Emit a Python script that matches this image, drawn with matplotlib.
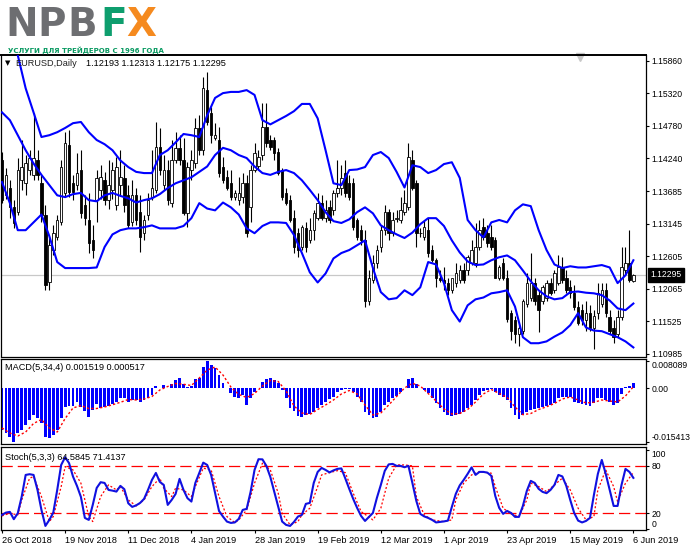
import matplotlib
matplotlib.use("Agg")
import matplotlib.pyplot as plt
from matplotlib.transforms import blended_transform_factory
import numpy as np

# ---------------- data ----------------
opens = [1.1420,1.1362,1.1375,1.1342,1.1334,1.1387,1.1382,1.1404,1.1396,1.1420,
         1.1382,1.1329,1.1217,1.1271,1.1292,1.1317,1.1366,1.1446,1.1382,1.1379,
         1.1404,1.1346,1.1321,1.1287,1.1354,1.1371,1.1387,1.1354,1.1371,1.1346,
         1.1379,1.1391,1.1362,1.1317,1.1362,1.1334,1.1299,1.1329,1.1359,1.1371,
         1.1442,1.1379,1.1404,1.1349,1.1420,1.1441,1.1420,1.1332,1.1404,1.1415,
         1.1474,1.1437,1.1537,1.1499,1.1457,1.1454,1.1409,1.1392,1.1382,1.1359,
         1.1354,1.1359,1.1382,1.1342,1.1404,1.1410,1.1429,1.1475,1.1454,1.1454,
         1.1434,1.1404,1.1366,1.1354,1.1325,1.1299,1.1276,1.1307,1.1287,1.1304,
         1.1325,1.1349,1.1325,1.1342,1.1337,1.1366,1.1374,1.1399,1.1382,1.1382,
         1.1321,1.1304,1.1287,1.1187,1.1221,1.1249,1.1276,1.1304,1.1334,1.1300,
         1.1322,1.1321,1.1334,1.1342,1.1420,1.1382,1.1299,1.1292,1.1304,1.1271,
         1.1254,1.1225,1.1221,1.1216,1.1204,1.1216,1.1221,1.1237,1.1237,1.1249,
         1.1249,1.1276,1.1309,1.1299,1.1292,1.1287,1.1225,1.1249,1.1225,1.1166,
         1.1154,1.1132,1.1137,1.1182,1.1192,1.1216,1.1196,1.1187,1.1192,1.1216,
         1.1204,1.1216,1.1242,1.1225,1.1209,1.1199,1.1176,1.1171,1.1154,1.1166,
         1.1142,1.1166,1.1182,1.1204,1.1159,1.1142,1.1132,1.1159,1.1237,1.1249,
         1.12193]
highs = [1.1434,1.1407,1.1387,1.1354,1.1424,1.1454,1.1429,1.1437,1.1499,1.1437,
         1.1396,1.1346,1.1292,1.1312,1.1329,1.1420,1.1467,1.1470,1.1396,1.1432,
         1.1437,1.1362,1.1366,1.1312,1.1404,1.1412,1.1401,1.1420,1.1417,1.1425,
         1.1437,1.1412,1.1379,1.1387,1.1374,1.1362,1.1329,1.1366,1.1437,1.1484,
         1.1474,1.1429,1.1420,1.1454,1.1467,1.1462,1.1457,1.1417,1.1437,1.1490,
         1.1495,1.1559,1.1567,1.1509,1.1482,1.1475,1.1425,1.1404,1.1404,1.1371,
         1.1392,1.1399,1.1396,1.1412,1.1449,1.1437,1.1515,1.1515,1.1462,1.1459,
         1.1441,1.1407,1.1374,1.1362,1.1337,1.1307,1.1312,1.1317,1.1325,1.1337,
         1.1366,1.1362,1.1354,1.1354,1.1371,1.1420,1.1412,1.1420,1.1396,1.1391,
         1.1325,1.1312,1.1304,1.1237,1.1262,1.1279,1.1312,1.1346,1.1340,1.1334,
         1.1337,1.1359,1.1371,1.1449,1.1437,1.1387,1.1307,1.1321,1.1325,1.1279,
         1.1257,1.1237,1.1242,1.1224,1.1221,1.1249,1.1246,1.1249,1.1262,1.1287,
         1.1316,1.1321,1.1324,1.1312,1.1312,1.1292,1.1246,1.1257,1.1237,1.1171,
         1.1162,1.1146,1.1190,1.1232,1.1266,1.1224,1.1204,1.1212,1.1221,1.1224,
         1.1237,1.1262,1.1259,1.1237,1.1221,1.1212,1.1187,1.1182,1.1187,1.1179,
         1.1171,1.1216,1.1216,1.1216,1.1171,1.1154,1.1171,1.1276,1.1276,1.1304,
         1.12313]
lows = [1.1349,1.1356,1.1325,1.1307,1.1329,1.1371,1.1362,1.1396,1.1387,1.1387,
        1.1317,1.1204,1.1204,1.1262,1.1287,1.1312,1.1359,1.1359,1.1354,1.1371,
        1.1324,1.1312,1.1266,1.1257,1.1317,1.1356,1.1346,1.1340,1.1356,1.1337,
        1.1362,1.1334,1.1307,1.1311,1.1312,1.1267,1.1287,1.1321,1.1354,1.1366,
        1.1396,1.1371,1.1346,1.1342,1.1415,1.1412,1.1329,1.1309,1.1387,1.1407,
        1.1429,1.1429,1.1479,1.1449,1.1454,1.1392,1.1382,1.1371,1.1354,1.1354,
        1.1346,1.1349,1.1292,1.1317,1.1401,1.1404,1.1420,1.1442,1.1437,1.1420,
        1.1396,1.1354,1.1346,1.1317,1.1266,1.1259,1.1271,1.1267,1.1282,1.1287,
        1.1321,1.1321,1.1317,1.1316,1.1329,1.1359,1.1362,1.1359,1.1354,1.1304,
        1.1287,1.1279,1.1176,1.1179,1.1216,1.1241,1.1267,1.1296,1.1287,1.1294,
        1.1317,1.1316,1.1329,1.1337,1.1371,1.1276,1.1292,1.1287,1.1259,1.1251,
        1.1209,1.1217,1.1204,1.1196,1.1199,1.1209,1.1216,1.1216,1.1229,1.1246,
        1.1242,1.1271,1.1287,1.1276,1.1271,1.1224,1.1221,1.1221,1.1151,1.1121,
        1.1116,1.1112,1.1132,1.1176,1.1187,1.1179,1.1134,1.1182,1.1187,1.1196,
        1.1199,1.1212,1.1216,1.1199,1.1192,1.1171,1.1146,1.1146,1.1137,1.1137,
        1.1107,1.1157,1.1176,1.1159,1.1132,1.1116,1.1126,1.1154,1.1229,1.1217,
        1.12175]
closes = [1.1354,1.1396,1.1342,1.1316,1.1404,1.1409,1.1415,1.1424,1.1424,1.1396,
          1.1329,1.1212,1.1279,1.1300,1.1321,1.1409,1.1449,1.1367,1.1367,1.1399,
          1.1332,1.1325,1.1282,1.1271,1.1391,1.1392,1.1354,1.1379,1.1404,1.1409,
          1.1392,1.1346,1.1312,1.1362,1.1321,1.1292,1.1321,1.1354,1.1375,1.1442,
          1.1404,1.1404,1.1354,1.1420,1.1441,1.1420,1.1332,1.1409,1.1420,1.1474,
          1.1437,1.1540,1.1484,1.1462,1.1462,1.1399,1.1387,1.1375,1.1359,1.1366,
          1.1366,1.1382,1.1299,1.1404,1.1432,1.1425,1.1475,1.1449,1.1442,1.1432,
          1.1399,1.1359,1.1349,1.1321,1.1276,1.1271,1.1309,1.1276,1.1304,1.1332,
          1.1349,1.1325,1.1337,1.1321,1.1366,1.1375,1.1391,1.1366,1.1359,1.1309,
          1.1292,1.1287,1.1187,1.1225,1.1249,1.1271,1.1304,1.1334,1.1300,1.1321,
          1.1324,1.1337,1.1349,1.1425,1.1375,1.1299,1.1300,1.1309,1.1266,1.1254,
          1.1225,1.1221,1.1216,1.1204,1.1225,1.1232,1.1237,1.1221,1.1259,1.1271,
          1.1276,1.1304,1.1292,1.1282,1.1276,1.1225,1.1242,1.1225,1.1157,1.1137,
          1.1132,1.1142,1.1187,1.1216,1.1216,1.1187,1.1171,1.1209,1.1216,1.1200,
          1.1232,1.1242,1.1221,1.1204,1.1199,1.1176,1.1149,1.1154,1.1166,1.1142,
          1.1162,1.1199,1.1204,1.1166,1.1137,1.1126,1.1159,1.1242,1.1249,1.1221,
          1.12295]

# Bollinger bands (20) sampled every 2nd bar
band_bars = list(range(0, 161, 2))
bb_upper = [1.1645,1.1620,1.1595,1.1540,1.1500,1.1459,1.1462,1.1467,1.1474,1.1482,
            1.1484,1.1467,1.1454,1.1447,1.1437,1.1420,1.1409,1.1401,1.1399,1.1399,
            1.1429,1.1437,1.1450,1.1464,1.1462,1.1459,1.1495,1.1524,1.1532,1.1534,
            1.1534,1.1537,1.1529,1.1487,1.1480,1.1487,1.1494,1.1502,1.1514,1.1514,
            1.1490,1.1437,1.1382,1.1379,1.1404,1.1405,1.1409,1.1429,1.1434,1.1424,
            1.1401,1.1375,1.1412,1.1409,1.1399,1.1404,1.1414,1.1417,1.1391,1.1321,
            1.1304,1.1292,1.1317,1.1321,1.1317,1.1337,1.1347,1.1344,1.1304,1.1271,
            1.1247,1.1241,1.1244,1.1242,1.1242,1.1244,1.1246,1.1242,1.1216,1.1229,
            1.1254]
bb_middle = [1.1500,1.1487,1.1462,1.1437,1.1415,1.1396,1.1379,1.1362,1.1359,1.1364,
             1.1366,1.1354,1.1352,1.1362,1.1366,1.1361,1.1357,1.1350,1.1354,1.1357,
             1.1364,1.1374,1.1382,1.1387,1.1392,1.1401,1.1410,1.1429,1.1441,1.1437,
             1.1429,1.1424,1.1410,1.1399,1.1396,1.1401,1.1404,1.1399,1.1387,1.1371,
             1.1354,1.1334,1.1319,1.1316,1.1322,1.1334,1.1342,1.1332,1.1312,1.1304,
             1.1297,1.1291,1.1300,1.1314,1.1324,1.1324,1.1311,1.1287,1.1267,1.1252,
             1.1246,1.1247,1.1254,1.1259,1.1262,1.1254,1.1237,1.1219,1.1204,1.1194,
             1.1189,1.1191,1.1201,1.1202,1.1200,1.1199,1.1196,1.1187,1.1174,1.1171,
             1.1182]
bb_lower = [1.1384,1.1349,1.1304,1.1304,1.1317,1.1330,1.1294,1.1251,1.1241,1.1241,
            1.1241,1.1241,1.1242,1.1276,1.1297,1.1304,1.1307,1.1307,1.1309,1.1312,
            1.1307,1.1307,1.1307,1.1311,1.1324,1.1349,1.1340,1.1337,1.1350,1.1342,
            1.1330,1.1307,1.1299,1.1311,1.1317,1.1317,1.1316,1.1296,1.1266,1.1234,
            1.1217,1.1232,1.1257,1.1266,1.1271,1.1279,1.1287,1.1241,1.1201,1.1189,
            1.1191,1.1204,1.1196,1.1209,1.1251,1.1247,1.1216,1.1171,1.1152,1.1179,
            1.1189,1.1192,1.1199,1.1201,1.1204,1.1177,1.1126,1.1116,1.1116,1.1119,
            1.1127,1.1134,1.1146,1.1166,1.1142,1.1137,1.1136,1.1131,1.1126,1.1119,
            1.1109]

# MACD(5,34,4) histogram (main) per bar
macd_main = [-0.01203,-0.01299,-0.01397,-0.015413,-0.0129,-0.01203,-0.01058,-0.00913,-0.00768,-0.00855,
             -0.01,-0.01397,-0.01426,-0.01348,-0.01203,-0.00855,-0.00528,-0.00499,-0.00499,-0.004,
             -0.00528,-0.00652,-0.00817,-0.00623,-0.00458,-0.00574,-0.00528,-0.00499,-0.00458,-0.00383,
             -0.00267,-0.00267,-0.00383,-0.00333,-0.00333,-0.00383,-0.00333,-0.00284,-0.00188,0.00072,
             0.00006,0.00101,0.00014,0.00122,0.00246,0.00296,0.00122,0.00052,0.00081,0.00275,
             0.00313,0.00632,0.008089,0.00681,0.00586,0.00391,0.00151,0.00006,-0.00139,-0.00238,
             -0.00267,-0.00188,-0.00478,-0.00284,-0.0011,0.00006,0.00197,0.00275,0.00296,0.00238,
             0.00151,-0.00035,-0.00284,-0.00574,-0.00652,-0.00788,-0.00817,-0.00768,-0.00748,-0.0069,
             -0.00574,-0.00478,-0.00383,-0.00304,-0.00238,-0.0011,-0.00043,-0.00014,-0.00023,-0.00093,
             -0.00238,-0.00383,-0.00672,-0.00768,-0.00846,-0.00817,-0.00672,-0.00478,-0.00383,-0.00284,
             -0.00209,-0.00093,0.00006,0.00275,0.00296,0.00122,0.00006,-0.00043,-0.00139,-0.00284,
             -0.00429,-0.00574,-0.00672,-0.00768,-0.00788,-0.00768,-0.00748,-0.00672,-0.00574,-0.00478,
             -0.00333,-0.00188,-0.00072,-0.00043,-0.00023,-0.00093,-0.00188,-0.00238,-0.00333,-0.00574,
             -0.00768,-0.00884,-0.00768,-0.00672,-0.00623,-0.00594,-0.00574,-0.00528,-0.00499,-0.00478,
             -0.00429,-0.00284,-0.00238,-0.00238,-0.00238,-0.00383,-0.00429,-0.00458,-0.00478,-0.00499,
             -0.00429,-0.00284,-0.00284,-0.00333,-0.00383,-0.00478,-0.00429,-0.00168,0.00052,0.00081,
             0.001519]
signal_bars = list(range(0, 161, 2))
macd_signal = [-0.01145,-0.0129,-0.01377,-0.01261,-0.01014,-0.00899,-0.01145,-0.01261,-0.0087,-0.00565,
               -0.00493,-0.0058,-0.0058,-0.00536,-0.00472,-0.004,-0.00319,-0.00333,-0.00304,-0.00232,
               -0.00043,0.00058,0.00145,0.00122,0.00087,0.00304,0.00536,0.00623,0.00391,0.00043,
               -0.00174,-0.00261,-0.00145,0.00072,0.00232,0.00203,-0.00072,-0.00507,-0.0071,-0.00754,
               -0.00609,-0.00478,-0.00333,-0.00159,-0.00058,-0.00159,-0.00478,-0.00768,-0.0071,-0.00478,
               -0.00232,0.00014,0.00151,0.00072,-0.00145,-0.00362,-0.00594,-0.00739,-0.00725,-0.00609,
               -0.00391,-0.00159,-0.00029,-0.00145,-0.00261,-0.00536,-0.00759,-0.00725,-0.00609,-0.0053,
               -0.00435,-0.00304,-0.00246,-0.00333,-0.0042,-0.004,-0.00333,-0.00362,-0.00391,-0.00217,
               0.000517]

# Stochastic(5,3,3)
stoch_k = [17.9,20.8,21.7,12.5,20.0,41.0,68.3,69.2,68.3,49.4,
           24.2,4.0,11.6,20.8,49.4,80.9,90.6,83.1,66.2,54.5,
           40.6,14.1,11.6,30.5,51.9,59.1,58.2,49.4,48.5,47.3,
           54.5,50.3,32.6,28.0,29.9,33.0,38.1,49.4,62.0,70.8,
           59.5,55.7,30.5,36.8,44.4,63.3,49.4,39.0,34.7,58.2,
           70.8,83.8,80.9,68.3,45.3,22.9,15.8,9.5,7.8,8.4,
           12.9,24.2,25.5,46.9,74.6,88.1,87.9,79.7,65.8,46.9,
           28.0,9.5,5.3,4.0,9.1,15.8,17.9,31.8,33.0,58.2,
           72.1,77.1,74.6,71.5,74.0,75.9,76.5,63.9,50.7,38.1,
           26.7,16.6,10.3,15.4,20.4,39.3,55.7,73.4,81.6,82.2,
           79.7,79.7,78.0,79.7,58.2,35.5,19.2,16.0,14.1,11.6,
           8.4,9.1,9.7,10.7,28.0,44.4,55.1,62.0,69.6,77.8,
           68.3,72.1,72.1,71.2,67.1,41.9,26.7,19.2,22.9,20.4,
           15.4,15.4,29.2,48.2,60.8,58.2,50.7,46.9,45.3,49.4,
           55.7,68.3,66.4,54.5,36.8,20.4,10.7,8.4,10.3,14.1,
           43.1,69.6,87.2,69.6,49.4,29.2,29.2,55.7,75.9,72.1,
           64.5845]
stoch_d_bars = [0,2,4,5,7,8,10,12,13,15,16,18,20,22,23,25,27,29,30,32,34,36,38,40,41,43,44,46,48,49,
                51,53,55,57,59,60,62,64,66,68,70,71,73,75,76,78,80,81,83,85,87,89,91,94,96,98,100,102,104,105,
                107,109,112,114,115,117,119,121,124,125,127,129,131,133,134,136,138,140,142,144,146,148,150,151,153,155,156,158,160]
stoch_d = [16.6,20.0,17.9,36.8,64.2,66.2,41.0,9.5,15.8,53.6,78.8,74.6,57.9,15.8,9.5,41.0,55.7,49.4,53.6,36.8,
           29.2,36.8,53.6,64.2,51.6,41.0,51.6,49.4,41.0,53.6,76.8,74.6,41.0,15.8,8.2,11.6,24.2,57.9,83.1,74.6,
           45.3,20.0,5.3,9.5,17.9,26.3,53.6,68.3,71.2,73.7,71.2,45.3,22.1,11.6,26.3,64.2,80.9,80.9,79.7,41.0,
           17.9,11.6,9.5,11.6,36.8,57.9,68.3,72.5,70.5,53.6,26.3,19.2,15.8,36.8,57.9,53.6,47.3,55.7,64.2,49.4,
           26.3,11.6,15.8,49.4,74.6,53.6,34.7,57.9,71.4137]

date_ticks = [0, 16, 32, 48, 64, 80, 96, 112, 128, 144, 160]
date_labels = ["26 Oct 2018", "19 Nov 2018", "11 Dec 2018", "4 Jan 2019", "28 Jan 2019",
               "19 Feb 2019", "12 Mar 2019", "1 Apr 2019", "23 Apr 2019", "15 May 2019", "6 Jun 2019"]
price_ticks = [1.15860, 1.15320, 1.14780, 1.14240, 1.13685, 1.13145, 1.12605, 1.12065, 1.11525, 1.10985]
macd_ticks = [0.008089, 0.0, -0.015413]
macd_tick_labels = ["0.008089", "0.00", "-0.015413"]
stoch_ticks = [100, 80, 20, 0]
last_price = 1.12295

# ---------------- figure ----------------
plt.rcParams['font.family'] = ['Liberation Sans', 'DejaVu Sans']
FS = 6.6
YFS = 6.2
W, H = 691, 549
fig = plt.figure(figsize=(W / 100, H / 100), dpi=100)
fig.patch.set_facecolor('white')

def rect(top, bottom, left=1, right=646):
    return [left / W, (H - bottom) / H, (right - left) / W, (bottom - top) / H]

ax1 = fig.add_axes(rect(55, 356.5))
ax2 = fig.add_axes(rect(359, 444))
ax3 = fig.add_axes(rect(447, 529.5))

n = len(closes)
x = np.arange(n)
o = np.array(opens); h = np.array(highs); l = np.array(lows); c = np.array(closes)
XL = (-0.25, 163.2)

for ax in (ax1, ax2, ax3):
    ax.set_xlim(*XL)
    ax.yaxis.tick_right()
    ax.tick_params(axis='y', direction='out', length=2.2, width=0.8, labelsize=YFS, pad=1.5, colors='black')
    for s in ax.spines.values():
        s.set_color('black')
        s.set_linewidth(0.9)
    ax.set_facecolor('white')

# main chart
ax1.axhline(last_price, color='#C8C8C8', lw=0.9, zorder=0.5)
ax1.vlines(x, l, h, color='black', lw=0.8, zorder=1)
body_lo = np.minimum(o, c)
body_h = np.maximum(np.abs(c - o), 0.00004)
face = ['white' if cc >= oo else 'black' for oo, cc in zip(opens, closes)]
ax1.bar(x, body_h, bottom=body_lo, width=0.62, color=face, edgecolor='black', linewidth=0.6, zorder=2)
for band in (bb_upper, bb_middle, bb_lower):
    ax1.plot(band_bars, band, color='#0000FF', lw=1.5, zorder=3, solid_joinstyle='round')
ax1.set_ylim(1.10939, 1.15954)
ax1.set_yticks(price_ticks)
ax1.set_yticklabels([f"{v:.5f}" for v in price_ticks])
ax1.set_xticks([])
ax1.spines['top'].set_linewidth(1.4)
ax1.text(1.007, last_price, f"{last_price:.5f}", transform=blended_transform_factory(ax1.transAxes, ax1.transData),
         color='white', fontsize=YFS, va='center', ha='left',
         bbox=dict(facecolor='black', edgecolor='black', boxstyle='square,pad=0.3'), clip_on=False, zorder=5)
ax1.plot([0.898], [0.992], marker='v', color='#C8C8C8', ms=6, transform=ax1.transAxes, clip_on=False)

# MACD
ax2.bar(x, macd_main, width=0.72, color='#0000FF', linewidth=0, zorder=2)
ax2.plot(signal_bars, macd_signal, color='#FF0000', lw=1.0, ls=(0, (1.6, 1.6)), zorder=3)
ax2.set_ylim(-0.01609, 0.00855)
ax2.set_yticks(macd_ticks)
ax2.set_yticklabels(macd_tick_labels)
tl = ax2.get_yticklabels()
tl[0].set_va('top'); tl[2].set_va('bottom')
ax2.set_xticks([])

# Stochastic
ax3.axhline(80, color='#FF0000', lw=0.9, ls=(0, (9, 4)), zorder=1)
ax3.axhline(20, color='#FF0000', lw=0.9, ls=(0, (9, 4)), zorder=1)
ax3.plot(stoch_d_bars, stoch_d, color='#FF0000', lw=0.9, ls=(0, (1.6, 1.6)), zorder=2)
ax3.plot(x, stoch_k, color='#1010E0', lw=1.5, zorder=3, solid_joinstyle='round')
ax3.set_ylim(-0.5, 103.5)
ax3.set_yticks(stoch_ticks)
ax3.set_yticklabels([str(v) for v in stoch_ticks])
tl = ax3.get_yticklabels()
tl[0].set_va('top'); tl[3].set_va('bottom')
ax3.set_xticks(date_ticks)
ax3.set_xticklabels(date_labels, ha='left')
ax3.tick_params(axis='x', direction='out', length=2.5, width=0.8, labelsize=FS, pad=2.5)

# header texts
def fy(py):
    return 1 - py / H
fig.text(5 / W, fy(63), '\u25BC', fontsize=5, va='center', ha='left', color='black', family='DejaVu Sans')
fig.text(15 / W, fy(63), 'EURUSD,Daily', fontsize=FS, va='center', ha='left', color='#202020')
fig.text(86 / W, fy(63), '1.12193 1.12313 1.12175 1.12295', fontsize=FS, va='center', ha='left', color='black')
fig.text(5 / W, fy(368), 'MACD(5,34,4) 0.001519 0.000517', fontsize=FS, va='center', ha='left', color='black')
fig.text(5 / W, fy(457), 'Stoch(5,3,3) 64.5845 71.4137', fontsize=FS, va='center', ha='left', color='black')

# logo (letters placed individually to match the wide logo)
logo_letters = ['N', 'P', 'B', 'F', 'X']
logo_colors = ['#6D6E71', '#6D6E71', '#6D6E71', '#0E9E6E', '#F58A1F']
logo_px = [5, 37, 67, 100, 126]
for ch, col, px in zip(logo_letters, logo_colors, logo_px):
    fig.text(px / W, fy(36.5), ch, fontsize=28, fontweight='bold', color=col,
             va='baseline', ha='left', family='DejaVu Sans')
fig.text(8 / W, fy(52.3), 'УСЛУГИ ДЛЯ ТРЕЙДЕРОВ С 1996 ГОДА', fontsize=5.0, fontweight='bold', color='#0A9A62',
         va='baseline', ha='left', family='DejaVu Sans')

fig.savefig('out.png', dpi=100, facecolor='white')
